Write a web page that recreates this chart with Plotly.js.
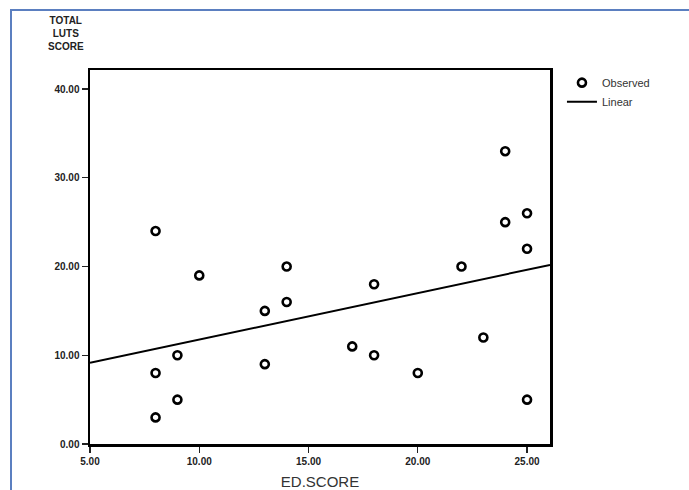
<!DOCTYPE html>
<html>
<head>
<meta charset="utf-8">
<script src="https://cdn.plot.ly/plotly-3.0.1.min.js"></script>
<style>
  html, body { margin: 0; padding: 0; background: #fff; }
  #wrap { position: relative; width: 689px; height: 490px; }
  #chart { width: 689px; height: 490px; }
  #frame { position: absolute; left: 10px; top: 9px; width: 700px; height: 500px;
           border-top: 2px solid #5b7fc0; border-left: 2px solid #5b7fc0; pointer-events: none; }
</style>
</head>
<body>
<div id="wrap">
  <div id="chart"></div>
  <div id="frame"></div>
</div>
<script>
// ED.SCORE (x) and TOTAL LUTS SCORE (y)
const edScore   = [8, 8, 8, 9, 9, 10, 13, 13, 14, 14, 17, 18, 18, 20, 22, 23, 24, 24, 25, 25, 25];
const lutsScore = [24, 8, 3, 10, 5, 19, 15, 9, 20, 16, 11, 18, 10, 8, 20, 12, 33, 25, 26, 22, 5];
const xTicks = [5, 10, 15, 20, 25];
const yTicks = [0, 10, 20, 30, 40];
const xRange = [5, 26.05];
const yRange = [0, 42.15];

// least-squares linear fit computed from the data
const n = edScore.length;
const mx = edScore.reduce((a, b) => a + b, 0) / n;
const my = lutsScore.reduce((a, b) => a + b, 0) / n;
let sxy = 0, sxx = 0;
for (let i = 0; i < n; i++) { sxy += (edScore[i] - mx) * (lutsScore[i] - my); sxx += (edScore[i] - mx) ** 2; }
const slope = sxy / sxx, intercept = my - slope * mx;
const fitX = xRange.slice();
const fitY = fitX.map(x => intercept + slope * x);

const tickFont = { family: '"Liberation Sans", Arial, sans-serif', size: 10, color: '#222', weight: 'bold' };

const traces = [
  { x: edScore, y: lutsScore, type: 'scatter', mode: 'markers', name: 'Observed',
    marker: { symbol: 'circle-open', size: 8, color: '#000', line: { width: 2.6, color: '#000' } } },
  { x: fitX, y: fitY, type: 'scatter', mode: 'lines', name: 'Linear',
    line: { color: '#000', width: 2 } }
];

const layout = {
  width: 689, height: 490,
  margin: { l: 90, r: 139, t: 70, b: 46 },
  paper_bgcolor: '#fff', plot_bgcolor: '#fff',
  showlegend: true,
  legend: { x: 1.026, y: 1.005, xanchor: 'left', yanchor: 'top',
            font: { family: '"Liberation Sans", Arial, sans-serif', size: 11, color: '#333' },
            tracegroupgap: 0, itemwidth: 30, bgcolor: 'rgba(0,0,0,0)' },
  xaxis: { range: xRange, tickvals: xTicks, ticktext: xTicks.map(v => v.toFixed(2)),
           showgrid: false, zeroline: false, showline: true, mirror: true,
           linecolor: '#000', linewidth: 2.5, ticks: 'outside', ticklen: 6, tickwidth: 1.2, tickcolor: '#222',
           tickfont: tickFont,
           title: { text: 'ED.SCORE', font: { family: '"Liberation Sans", Arial, sans-serif', size: 15, color: '#333' }, standoff: 12 } },
  yaxis: { range: yRange, tickvals: yTicks, ticktext: yTicks.map(v => v.toFixed(2)),
           showgrid: false, zeroline: false, showline: true, mirror: true,
           linecolor: '#000', linewidth: 2.5, ticks: 'outside', ticklen: 6, tickwidth: 1.2, tickcolor: '#222',
           tickfont: tickFont },
  annotations: [
    { text: 'TOTAL<br>LUTS<br>SCORE', xref: 'paper', yref: 'paper', x: -0.052, y: 1.152,
      xanchor: 'center', yanchor: 'top', showarrow: false, align: 'center',
      font: { family: '"Liberation Sans", Arial, sans-serif', size: 10, color: '#222', weight: 'bold' } }
  ]
};

Plotly.newPlot('chart', traces, layout, { displayModeBar: false, staticPlot: true });
</script>
</body>
</html>
